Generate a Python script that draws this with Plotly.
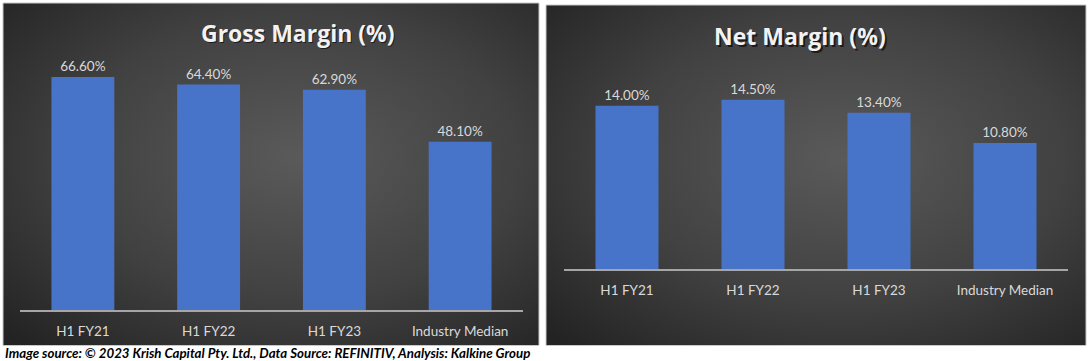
import plotly.graph_objects as go
import urllib.parse

# ---- data ----
categories = ["H1 FY21", "H1 FY22", "H1 FY23", "Industry Median"]
gross_margin = [66.6, 64.4, 62.9, 48.1]
net_margin = [14.0, 14.5, 13.4, 10.8]
gross_title = "Gross Margin (%)"
net_title = "Net Margin (%)"
caption = "Image source: © 2023 Krish Capital Pty. Ltd., Data Source: REFINITIV, Analysis: Kalkine Group"

W, H = 1090, 361

def px_x(x):
    return x / W

def px_y(y):
    return 1 - y / H

BAR = "#4774c8"
LABEL = "#d9d9d9"

fig = go.Figure()
fig.add_trace(go.Bar(
    x=categories, y=gross_margin, xaxis="x", yaxis="y",
    marker=dict(color=BAR, line=dict(width=0)),
    text=[f"{v:.2f}%" for v in gross_margin], textposition="outside",
    textfont=dict(family="Lato", size=13.5, color=LABEL),
    cliponaxis=False, showlegend=False, hoverinfo="skip",
))
fig.add_trace(go.Bar(
    x=categories, y=net_margin, xaxis="x2", yaxis="y2",
    marker=dict(color=BAR, line=dict(width=0)),
    text=[f"{v:.2f}%" for v in net_margin], textposition="outside",
    textfont=dict(family="Lato", size=13.5, color=LABEL),
    cliponaxis=False, showlegend=False, hoverinfo="skip",
))

svg = ('<svg xmlns="http://www.w3.org/2000/svg" width="540" height="342" preserveAspectRatio="none">'
       '<defs><radialGradient id="g" cx="55%" cy="45%" r="75%">'
       '<stop offset="0" stop-color="#5a5a5a"/><stop offset="0.55" stop-color="#414141"/>'
       '<stop offset="1" stop-color="#232323"/></radialGradient></defs>'
       '<rect width="540" height="342" fill="url(#g)"/></svg>')
src = "data:image/svg+xml;charset=utf-8," + urllib.parse.quote(svg)

panels = [(3, 3, 539, 345.5), (546, 5, 1086, 345.5)]
images = []
shapes = []
for (x0, y0, x1, y1) in panels:
    images.append(dict(source=src, xref="paper", yref="paper",
                       x=px_x(x0), y=px_y(y0), sizex=px_x(x1) - px_x(x0), sizey=px_y(y0) - px_y(y1),
                       xanchor="left", yanchor="top", sizing="stretch", layer="below"))
    shapes.append(dict(type="rect", xref="paper", yref="paper",
                       x0=px_x(x0), x1=px_x(x1), y0=px_y(y1), y1=px_y(y0),
                       line=dict(color="#c8c8c8", width=1), fillcolor="rgba(0,0,0,0)", layer="below"))

annotations = []
for (title, cx, cy) in [(gross_title, 298, 33), (net_title, 800, 36)]:
    annotations.append(dict(text=f"<b>{title}</b>", xref="paper", yref="paper",
                            x=px_x(cx + 1.5), y=px_y(cy + 1.5), showarrow=False,
                            font=dict(family="Open Sans", size=23, color="rgba(0,0,0,0.6)"),
                            xanchor="center", yanchor="middle"))
    annotations.append(dict(text=f"<b>{title}</b>", xref="paper", yref="paper",
                            x=px_x(cx), y=px_y(cy), showarrow=False,
                            font=dict(family="Open Sans", size=23, color="#f2f2f2"),
                            xanchor="center", yanchor="middle"))
annotations.append(dict(text=f"<b><i>{caption}</i></b>", xref="paper", yref="paper",
                        x=px_x(3), y=px_y(353), showarrow=False,
                        font=dict(family="Lato", size=13.3, color="#000000"),
                        xanchor="left", yanchor="middle"))

axis_x = dict(showline=True, linecolor="#a6a6a6", linewidth=2, showgrid=False, zeroline=False,
              ticks="outside", ticklen=8, tickcolor="rgba(0,0,0,0)",
              tickfont=dict(family="Lato", size=13.5, color=LABEL), fixedrange=True)
axis_y = dict(visible=False, showgrid=False, zeroline=False, fixedrange=True)

fig.update_layout(
    width=W, height=H, margin=dict(l=0, r=0, t=0, b=0),
    paper_bgcolor="white", plot_bgcolor="rgba(0,0,0,0)",
    bargap=0.5,
    xaxis=dict(domain=[px_x(20), px_x(523)], anchor="y", **axis_x),
    yaxis=dict(domain=[px_y(310), px_y(30)], range=[0, 80], anchor="x", **axis_y),
    xaxis2=dict(domain=[px_x(564), px_x(1068)], anchor="y2", **axis_x),
    yaxis2=dict(domain=[px_y(269), px_y(269 - 20 * 126 / 10.8)], range=[0, 20], anchor="x2", **axis_y),
    images=images, shapes=shapes, annotations=annotations,
)

fig.write_html("out.html", config={"displayModeBar": False},
               post_script="document.body.style.margin='0';document.body.style.overflow='hidden';")
